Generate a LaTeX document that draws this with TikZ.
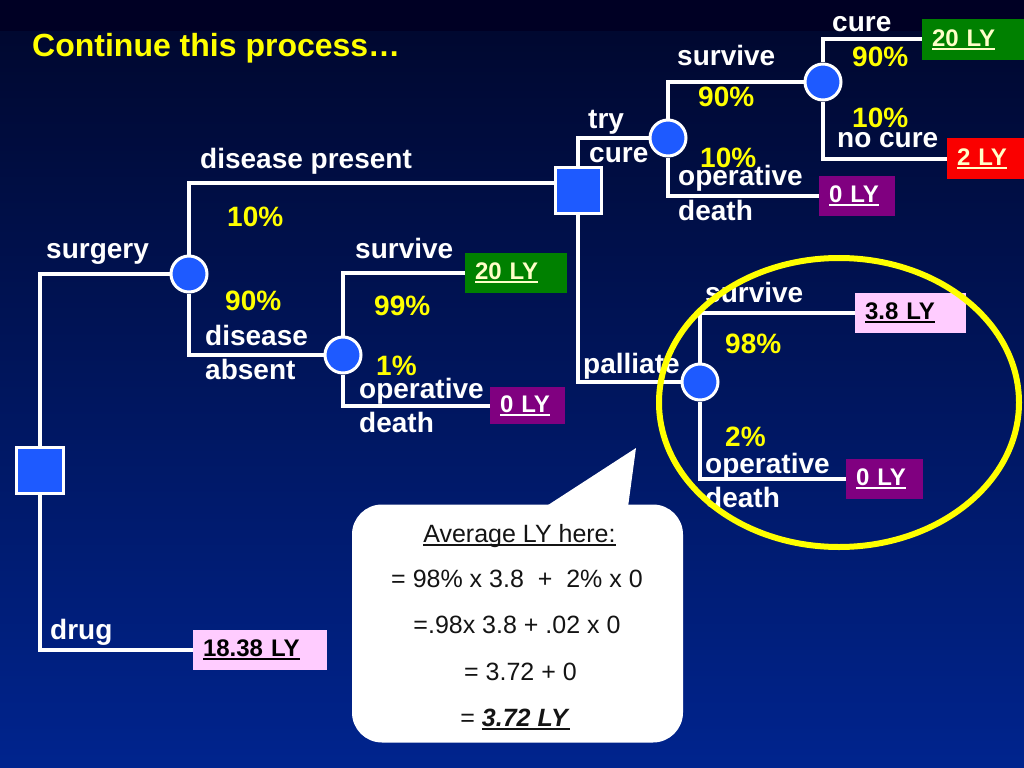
\documentclass[tikz,border=0pt]{standalone}
\usepackage{fontspec}
\setmainfont{Liberation Sans}
\usetikzlibrary{calc,shapes.geometric}
\definecolor{nodeblue}{RGB}{30,90,255}
\definecolor{pctyellow}{RGB}{255,255,0}
\definecolor{boxgreen}{RGB}{0,128,0}
\definecolor{boxred}{RGB}{250,0,0}
\definecolor{boxpurple}{RGB}{128,0,128}
\definecolor{boxpink}{RGB}{255,204,255}
\definecolor{boxtext}{RGB}{255,255,200}
\definecolor{bgband}{RGB}{0,0,36}
\definecolor{bgtop}{RGB}{0,8,48}
\definecolor{bgmid}{RGB}{0,26,110}
\definecolor{bgbot}{RGB}{0,36,142}
\definecolor{calltext}{RGB}{20,20,20}
\newcommand\ulbox[1]{\setbox0\hbox{#1}\rlap{\rule[-3.5bp]{\wd0}{2bp}}\box0}
\newcommand\ulthin[1]{\setbox0\hbox{#1}\rlap{\rule[-3.5bp]{\wd0}{1.4bp}}\box0}
\begin{document}
\begin{tikzpicture}[x=1bp,y=-1bp,
  chance/.style={circle, draw=white, line width=3bp, fill=nodeblue, minimum size=36bp, inner sep=0pt},
  decision/.style={rectangle, draw=white, line width=3bp, fill=nodeblue, minimum size=46bp, inner sep=0pt},
  branch/.style={draw=white, line width=4bp},
  lbl/.style={text=white, font=\fontsize{28bp}{30bp}\selectfont\bfseries, inner sep=0pt, anchor=base west},
  pct/.style={lbl, text=pctyellow},
  titletext/.style={text=pctyellow, font=\fontsize{32bp}{34bp}\selectfont\bfseries, inner sep=0pt, anchor=base west},
  valbox/.style={rectangle, inner xsep=10bp, inner ysep=0pt, align=left, font=\fontsize{24bp}{26bp}\selectfont\bfseries},
  calltxt/.style={text=calltext, font=\fontsize{25bp}{27bp}\selectfont, inner sep=0pt, anchor=base}
]
\useasboundingbox (0,0) rectangle (1024,768);
% background
\fill[bgband] (0,0) rectangle (1024,32);
\shade[top color=bgtop, middle color=bgmid, bottom color=bgbot] (0,32) rectangle (1024,768);

% decision and chance nodes
\node[decision] (d1) at (40,470) {};
\node[decision] (d2) at (578,190) {};
\node[chance] (c1) at (189,274) {};
\node[chance] (c2) at (343,355) {};
\node[chance] (c3) at (668,138) {};
\node[chance] (c4) at (823,82) {};
\node[chance] (c5) at (700,382) {};

% value boxes
\node[valbox, fill=boxgreen, text=boxtext, text width=82bp, minimum height=40bp] (g1) at (516,273) {\ulbox{20 LY}};
\node[valbox, fill=boxpurple, text=white, text width=55bp, minimum height=37bp] (p1) at (527.5,405.5) {\ulbox{0 LY}};
\node[valbox, fill=boxgreen, text=boxtext, text width=82bp, minimum height=41bp] (g2) at (973,39.5) {\ulbox{20 LY}};
\node[valbox, fill=boxred, text=boxtext, text width=57bp, minimum height=41bp] (r1) at (985.5,158.5) {\ulbox{2 LY}};
\node[valbox, fill=boxpurple, text=white, text width=56bp, minimum height=40bp] (p2) at (857,196) {\ulbox{0 LY}};
\node[valbox, fill=boxpink, text=black, text width=91bp, minimum height=40bp] (k1) at (910.5,313) {\ulbox{3.8 LY}};
\node[valbox, fill=boxpurple, text=white, text width=57bp, minimum height=40bp] (p3) at (884.5,479) {\ulbox{0 LY}};
\node[valbox, fill=boxpink, text=black, text width=114bp, minimum height=40bp] (k2) at (260,650) {\ulbox{18.38 LY}};

% connectors
\draw[branch] (d1.north) |- (c1.west);
\draw[branch] (d1.south) |- (k2.west);
\draw[branch] (c1.north) |- ($(d2.west)+(0,-7)$);
\draw[branch] (c1.south) |- (c2.west);
\draw[branch] (c2.north) |- (g1.west);
\draw[branch] (c2.south) |- (p1.west);
\draw[branch] (d2.north) |- (c3.west);
\draw[branch] (d2.south) |- (c5.west);
\draw[branch] (c3.north) |- (c4.west);
\draw[branch] (c3.south) |- (p2.west);
\draw[branch] (c4.north) |- (g2.west);
\draw[branch] (c4.south) |- (r1.west);
\draw[branch] (c5.north) |- (k1.west);
\draw[branch] (c5.south) |- (p3.west);

% title
\node[titletext] (title) at (32,57) {Continue this process…};

% labels
\node[lbl] (lsurg) at (46,258) {surgery};
\node[lbl] (ldrug) at (50,639) {drug};
\node[lbl] (ldp) at (200,168) {disease present};
\node[pct] (p10a) at (227,226) {10\%};
\node[pct] (p90a) at (225,310) {90\%};
\node[lbl] (lda1) at (205,345) {disease};
\node[lbl] (lda2) at (205,379) {absent};
\node[lbl] (lsv1) at (355,258) {survive};
\node[pct] (p99) at (374,315) {99\%};
\node[pct] (p1a) at (376,375) {1\%};
\node[lbl] (lod1) at (359,398) {operative};
\node[lbl] (lde1) at (359,432) {death};

\node[lbl] (ltry) at (588,128) {try};
\node[lbl] (lcure) at (589,162) {cure};
\node[lbl] (lsv2) at (677,66) {survive};
\node[pct] (p90b) at (698,106) {90\%};
\node[pct] (p10b) at (700,167) {10\%};
\node[lbl] (lod2) at (678,185) {operative};
\node[lbl] (lde2) at (678,220) {death};
\node[lbl] (lcure2) at (832,32) {cure};
\node[pct] (p90c) at (852,67) {90\%};
\node[pct] (p10c) at (852,127) {10\%};
\node[lbl] (lnoc) at (837,147) {no cure};

\node[lbl] (lpal) at (583,373) {palliate};
\node[lbl] (lsv3) at (705,302) {survive};
\node[pct] (p98) at (725,353) {98\%};
\node[pct] (p2) at (725,446) {2\%};
\node[lbl] (lod3) at (705,473) {operative};
\node[lbl] (lde3) at (705,507) {death};

% highlight ellipse
\node[ellipse, draw=pctyellow, line width=6bp, minimum width=360bp, minimum height=289bp, inner sep=0pt] (hl) at (839,402.5) {};

% callout
\node[fill=white, rounded corners=30bp, minimum width=331bp, minimum height=238bp, inner sep=0pt] (callout) at (517.5,623.5) {};
\coordinate (tip) at (636,448);
\fill[white] (545,507) -- (tip) -- (628,507) -- cycle;
\node[calltxt] (cl1) at (519.5,542) {\ulthin{Average LY here:}};
\node[calltxt] (cl2) at (517,587) {= 98\% x 3.8\ \ +\ \ 2\% x 0};
\node[calltxt] (cl3) at (517,633) {=.98x 3.8 + .02 x 0};
\node[calltxt] (cl4) at (520.5,680) {= 3.72 + 0};
\node[calltxt] (cl5) at (515,726) {= \ulbox{\textbf{\textit{3.72 LY}}}};
\end{tikzpicture}
\end{document}
